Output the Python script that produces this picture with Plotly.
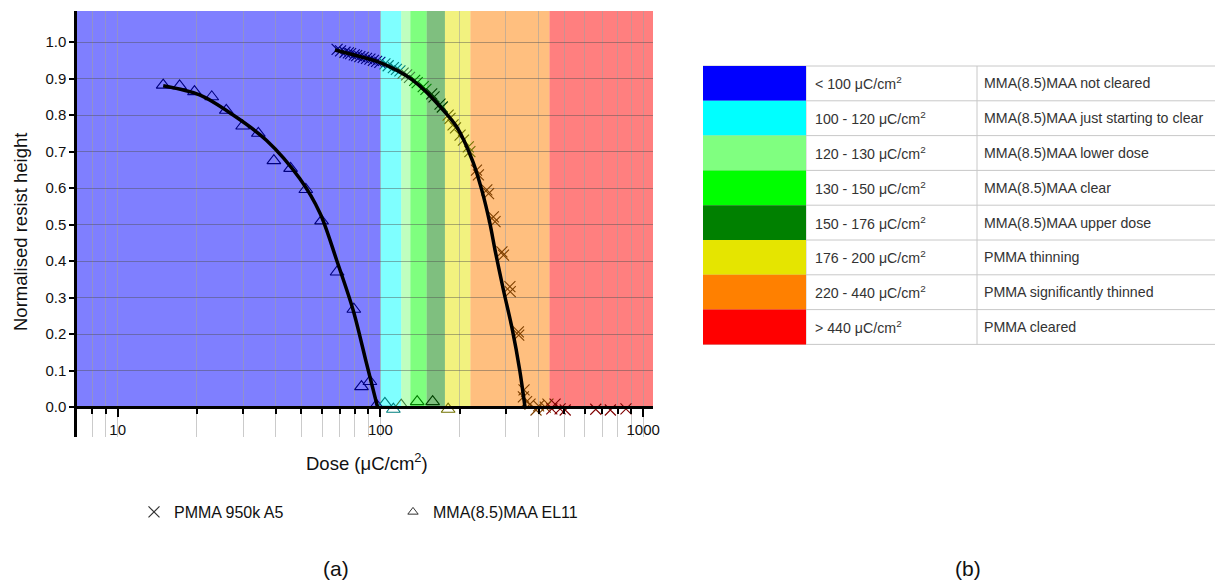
import math
import plotly.graph_objects as go

# ---------------- data ----------------
mma_dose = [14.9, 17.2, 19.6, 22.8, 25.9, 29.9, 34.3, 39.3, 45.5, 52.0, 59.7, 68.4, 79.2,
            84.7, 91.2, 96.6, 104, 112, 120, 138, 158, 181]
mma_height = [0.882, 0.880, 0.864, 0.850, 0.813, 0.770, 0.750, 0.675, 0.654, 0.596, 0.510,
              0.370, 0.268, 0.056, 0.070, 0.005, 0.010, -0.006, 0.005, 0.015, 0.015, -0.006]

pmma_dose = [68.4, 70.5, 73.3, 75.5, 77.0, 79.5, 81.2, 83.5, 86.0, 88.5, 91.2, 94.0, 96.7, 99.5,
             104, 107, 112, 115, 118.6, 122, 125.8, 129, 135, 138, 145.5, 149, 156.7, 160,
             168.6, 172, 181, 184, 189, 193, 201, 207, 216, 219, 232, 236, 254, 258, 269, 273,
             290, 294, 311, 312, 335, 336, 352, 350,
             360, 371, 391, 400, 424, 434, 449, 462, 483, 505, 660, 750, 860]
pmma_height = [0.980, 0.976, 0.972, 0.970, 0.968, 0.965, 0.963, 0.960, 0.958, 0.955, 0.953,
               0.950, 0.947, 0.944, 0.940, 0.935, 0.930, 0.925, 0.921, 0.915, 0.910, 0.903,
               0.895, 0.889, 0.878, 0.870, 0.858, 0.850, 0.830, 0.822, 0.800, 0.791, 0.773,
               0.765, 0.745, 0.731, 0.713, 0.700, 0.649, 0.636, 0.595, 0.585, 0.521, 0.508,
               0.425, 0.416, 0.330, 0.316, 0.206, 0.197, 0.047, 0.028,
               0.015, 0.008, -0.008, 0.003, 0.000, 0.008, -0.005, 0.008, -0.005, -0.008,
               -0.006, -0.008, -0.005]

mma_fit_dose = [14.9, 20.5, 27.5, 36.8, 49.3, 58.9, 68.1, 78.7, 88.5, 97.5]
mma_fit_height = [0.880, 0.855, 0.800, 0.731, 0.626, 0.531, 0.403, 0.266, 0.120, 0.0]

pmma_fit_dose = [67.1, 80.7, 97, 116.6, 131.8, 149.1, 168.6, 195, 225, 243, 261, 273, 294,
                 318, 339, 355]
pmma_fit_height = [0.978, 0.963, 0.947, 0.921, 0.897, 0.864, 0.823, 0.768, 0.672, 0.595,
                   0.503, 0.430, 0.320, 0.211, 0.101, 0.0]

band_edges = [7, 100, 120, 130, 150, 176, 220, 440, 1090]
band_colors = ["#0000FF", "#00FFFF", "#80FF80", "#00FF00", "#008000", "#E5E500", "#FF8000", "#FF0000"]

table_ranges = ["< 100 μC/cm<sup>2</sup>", "100 - 120 μC/cm<sup>2</sup>",
                "120 - 130 μC/cm<sup>2</sup>", "130 - 150 μC/cm<sup>2</sup>",
                "150 - 176 μC/cm<sup>2</sup>", "176 - 200 μC/cm<sup>2</sup>",
                "220 - 440 μC/cm<sup>2</sup>", "> 440 μC/cm<sup>2</sup>"]
table_desc = ["MMA(8.5)MAA not cleared", "MMA(8.5)MAA just starting to clear",
              "MMA(8.5)MAA lower dose", "MMA(8.5)MAA clear", "MMA(8.5)MAA upper dose",
              "PMMA thinning", "PMMA significantly thinned", "PMMA cleared"]

y_ticks = [0.0, 0.1, 0.2, 0.3, 0.4, 0.5, 0.6, 0.7, 0.8, 0.9, 1.0]
x_major = [10, 100, 1000]
x_minor = [8, 9, 20, 30, 40, 50, 60, 70, 80, 90, 200, 300, 400, 500, 600, 700, 800, 900]

x_range = [7, 1090]
y_range = [-0.082, 1.085]

# ---------------- helpers ----------------
FONT = "Liberation Sans, Arial, sans-serif"
W, H = 1215, 586
PL, PR, PT, PB = 77, 653, 11, 437


def fx(px):
    return (px - PL) / (PR - PL)


def fy(py):
    return (PB - py) / (PB - PT)


def band_index(d):
    for i in range(len(band_colors)):
        if band_edges[i] <= d < band_edges[i + 1]:
            return i
    return 0 if d < band_edges[0] else len(band_colors) - 1


def shade(hexc):
    r, g, b = int(hexc[1:3], 16), int(hexc[3:5], 16), int(hexc[5:7], 16)
    return "rgb(%d,%d,%d)" % (r // 2, g // 2, b // 2)


mma_colors = [shade(band_colors[band_index(d)]) for d in mma_dose]
pmma_colors = [shade(band_colors[band_index(d)]) for d in pmma_dose]

fig = go.Figure()

# bands
for i, c in enumerate(band_colors):
    fig.add_shape(type="rect", xref="x", yref="y",
                  x0=max(band_edges[i], x_range[0]), x1=min(band_edges[i + 1], x_range[1]),
                  y0=0, y1=y_range[1], fillcolor=c, opacity=0.5,
                  line=dict(width=0), layer="below")

# data markers
fig.add_trace(go.Scatter(x=mma_dose, y=mma_height, mode="markers", showlegend=False,
                         marker=dict(symbol="triangle-up-open", size=12, color=mma_colors,
                                     line=dict(width=1.1))))
fig.add_trace(go.Scatter(x=pmma_dose, y=pmma_height, mode="markers", showlegend=False,
                         marker=dict(symbol="x-thin-open", size=11, color=pmma_colors,
                                     line=dict(width=1.1))))
# fits
fig.add_trace(go.Scatter(x=mma_fit_dose, y=mma_fit_height, mode="lines", showlegend=False,
                         line=dict(color="black", width=3.5, shape="spline", smoothing=0.9)))
fig.add_trace(go.Scatter(x=pmma_fit_dose, y=pmma_fit_height, mode="lines", showlegend=False,
                         line=dict(color="black", width=3.5, shape="spline", smoothing=0.9)))

# legend entries
fig.add_trace(go.Scatter(x=[None], y=[None], mode="markers", name="PMMA 950k A5",
                         legend="legend",
                         marker=dict(symbol="x-thin-open", size=11, color="#333",
                                     line=dict(width=1.2))))
fig.add_trace(go.Scatter(x=[None], y=[None], mode="markers", name="MMA(8.5)MAA EL11",
                         legend="legend2",
                         marker=dict(symbol="triangle-up-open", size=9, color="#333",
                                     line=dict(width=1))))

# table
ty0, rh = 66, 34.8
tx0, tsw, tcol, tx1 = 703, 806, 977, 1215
nrow = len(table_desc)
for i in range(nrow + 1):
    yy = fy(ty0 + i * rh)
    fig.add_shape(type="line", xref="paper", yref="paper", x0=fx(tx0), x1=fx(tx1),
                  y0=yy, y1=yy, line=dict(color="#c8c8c8", width=1))
for xv in (tsw, tcol):
    fig.add_shape(type="line", xref="paper", yref="paper", x0=fx(xv), x1=fx(xv),
                  y0=fy(ty0), y1=fy(ty0 + nrow * rh), line=dict(color="#c8c8c8", width=1))
for i in range(nrow):
    fig.add_shape(type="rect", xref="paper", yref="paper", x0=fx(tx0), x1=fx(tsw),
                  y0=fy(ty0 + i * rh), y1=fy(ty0 + (i + 1) * rh),
                  fillcolor=band_colors[i], line=dict(width=0))
    yc = fy(ty0 + (i + 0.5) * rh)
    fig.add_annotation(x=fx(813), y=yc, xref="paper", yref="paper", text=table_ranges[i],
                       showarrow=False, xanchor="left", yanchor="middle",
                       font=dict(family=FONT, size=14.2, color="#333"))
    fig.add_annotation(x=fx(982), y=yc, xref="paper", yref="paper", text=table_desc[i],
                       showarrow=False, xanchor="left", yanchor="middle",
                       font=dict(family=FONT, size=14.2, color="#333"))

# titles / labels
fig.add_annotation(x=fx(20), y=fy(232), xref="paper", yref="paper",
                   text="Normalised resist height", textangle=-90, showarrow=False,
                   xanchor="center", yanchor="middle", font=dict(family=FONT, size=18.5, color="#111"))
fig.add_annotation(x=fx(367), y=fy(462), xref="paper", yref="paper",
                   text="Dose (μC/cm<sup>2</sup>)", showarrow=False,
                   xanchor="center", yanchor="middle", font=dict(family=FONT, size=18.5, color="#111"))
fig.add_annotation(x=fx(336), y=fy(568), xref="paper", yref="paper", text="(a)",
                   showarrow=False, xanchor="center", yanchor="middle",
                   font=dict(family=FONT, size=21, color="#111"))
fig.add_annotation(x=fx(968), y=fy(568), xref="paper", yref="paper", text="(b)",
                   showarrow=False, xanchor="center", yanchor="middle",
                   font=dict(family=FONT, size=21, color="#111"))

xpos = (PB - 407) / (PB - PT)

fig.update_layout(
    width=W, height=H,
    margin=dict(l=PL, r=W - PR, t=PT, b=H - PB, pad=0),
    paper_bgcolor="white", plot_bgcolor="white",
    font=dict(family=FONT, color="#111"),
    xaxis=dict(type="log", range=[math.log10(x_range[0]), math.log10(x_range[1])],
               anchor="free", position=xpos,
               tickvals=x_major, ticktext=[str(v) for v in x_major],
               ticks="outside", ticklen=8, tickwidth=2, tickcolor="black",
               tickfont=dict(family=FONT, size=15, color="#111"),
               showline=True, linecolor="black", linewidth=3,
               showgrid=True, gridcolor="rgba(160,160,160,0.55)", gridwidth=1,
               minor=dict(tickvals=x_minor, ticks="outside", ticklen=5, tickwidth=1.5,
                          tickcolor="black", showgrid=True,
                          gridcolor="rgba(160,160,160,0.55)", gridwidth=1),
               zeroline=False, fixedrange=True),
    yaxis=dict(range=y_range, tickvals=y_ticks, ticktext=["%.1f" % v for v in y_ticks],
               ticks="outside", ticklen=5, tickwidth=1.5, tickcolor="black",
               tickfont=dict(family=FONT, size=15, color="#111"),
               showline=True, linecolor="black", linewidth=2.5,
               showgrid=True, gridcolor="rgba(80,80,80,0.45)", gridwidth=1,
               zeroline=False, fixedrange=True),
    legend=dict(x=fx(134), y=fy(512), xanchor="left", yanchor="middle",
                orientation="h", bgcolor="rgba(0,0,0,0)",
                font=dict(family=FONT, size=16, color="#111")),
    legend2=dict(x=fx(393), y=fy(512), xanchor="left", yanchor="middle",
                 orientation="h", bgcolor="rgba(0,0,0,0)",
                 font=dict(family=FONT, size=16, color="#111")),
)

fig.write_html("out.html")
